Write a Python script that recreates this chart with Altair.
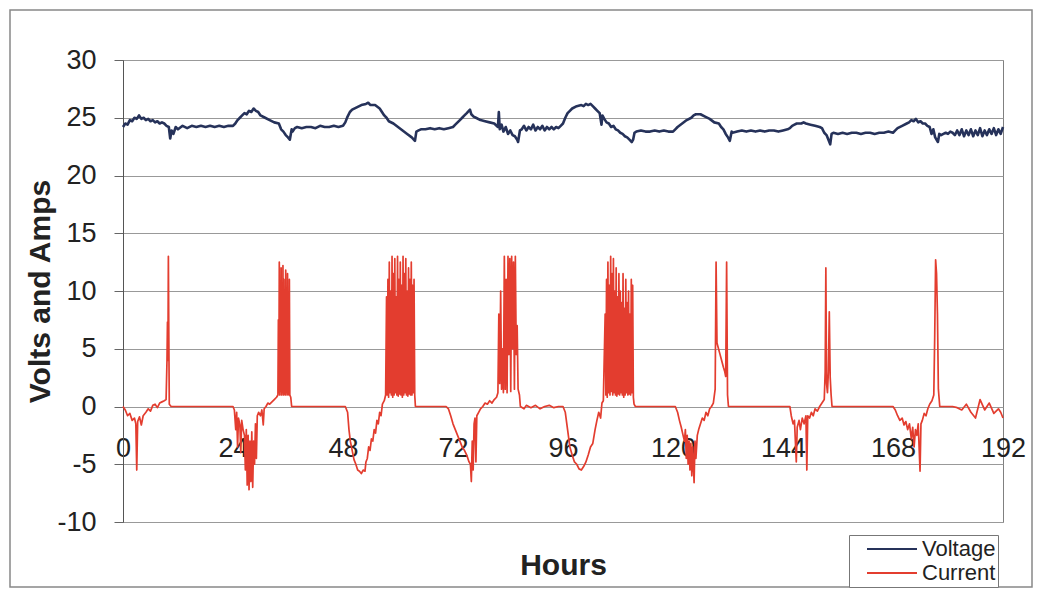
import altair as alt
import pandas as pd

# ---------------- data ----------------
series_names = ["Voltage", "Current"]
series_colors = ["#26325a", "#e33d2f"]
x_ticks = [0, 24, 48, 72, 96, 120, 144, 168, 192]
y_ticks = [-10, -5, 0, 5, 10, 15, 20, 25, 30]

volt_hours = [
    0, 0.5, 1, 1.5, 2, 2.5, 3, 3.5, 4, 4.5, 5, 5.5, 6, 6.5, 7, 7.5, 8, 8.5, 9, 9.5, 10, 10.3, 10.6, 11, 11.5,
    12, 13, 14, 15, 16, 17, 18, 19, 20, 21, 22, 23, 24,
    24.5, 25, 25.5, 26, 26.5, 27, 27.5, 28, 28.5, 29, 29.5, 30, 31, 32, 33, 34, 34.5, 35, 35.5, 36, 36.4, 36.8, 37, 37.5,
    38, 39, 40, 41, 42, 43, 44, 45, 46, 47, 48,
    48.5, 49, 49.5, 50, 51, 52, 53, 53.5, 54, 55, 56, 56.5, 57, 57.5, 58, 59, 60, 61, 62, 63, 63.7,
    64, 64.5, 65, 66, 67, 68, 69, 70, 71, 72,
    72.5, 73, 73.5, 74, 74.5, 75, 75.7, 76, 76.5, 77, 78, 79, 80, 81, 81.8, 82.0, 82.2, 82.6, 83, 83.5, 84, 84.5, 85, 85.5, 86, 86.2, 86.6,
    87, 87.5, 88, 88.5, 89, 89.5, 90, 90.5, 91, 91.5, 92, 92.5, 93, 93.5, 94, 94.5, 95, 95.5, 96,
    96.5, 97, 97.5, 98, 99, 100, 100.5, 101, 101.5, 102, 102.5, 103, 103.5, 104, 104.4, 104.6, 105, 105.5, 106, 106.5,
    107, 107.5, 108, 108.5, 109, 109.5, 110, 110.5, 111, 111.3, 111.6,
    112, 113, 114, 115, 116, 117, 118, 119, 120,
    120.5, 121, 122, 123, 124, 124.5, 125, 126, 127, 128, 129, 130, 130.5, 131, 131.5, 132, 132.4, 132.8,
    133, 134, 135, 136, 137, 138, 139, 140, 141, 142, 143, 144, 145,
    145.5, 146, 146.5, 147, 148, 148.5, 149, 150, 151, 152, 152.5, 153, 153.5, 154, 154.3, 154.6,
    155, 156, 157, 158, 159, 160, 161, 162, 163, 164, 165, 166, 167, 168,
    168.5, 169, 170, 171, 171.5, 172, 172.5, 173, 173.5, 174, 174.5, 175, 175.5, 176, 176.4, 176.8, 177.2, 177.8, 178.1, 178.5,
    179, 179.5, 180, 180.5, 181, 181.5, 182, 182.5, 183, 183.5, 184, 184.5, 185, 185.5, 186, 186.5, 187, 187.5, 188, 188.5,
    189, 189.5, 190, 190.5, 191, 191.5, 192,
]
volt_values = [
    24.2, 24.5, 24.4, 24.8, 24.7, 25.0, 24.9, 25.2, 24.9, 25.0, 24.8, 24.9, 24.7, 24.8, 24.6, 24.7, 24.5, 24.6, 24.5, 24.3, 24.2, 23.2, 23.9, 23.6, 24.2,
    24.0, 24.3, 24.1, 24.3, 24.2, 24.3, 24.2, 24.3, 24.2, 24.3, 24.2, 24.3, 24.3,
    24.5, 24.8, 25.0, 25.2, 25.4, 25.3, 25.6, 25.5, 25.8, 25.6, 25.5, 25.2, 25.0, 24.8, 24.6, 24.5, 24.0, 23.8, 23.5, 23.3, 23.1, 24.0, 23.8, 24.1,
    24.2, 24.1, 24.2, 24.2, 24.1, 24.3, 24.2, 24.2, 24.3, 24.2, 24.3,
    24.6, 25.1, 25.5, 25.7, 25.9, 26.1, 26.2, 26.3, 26.1, 26.1, 25.8, 25.5, 25.2, 25.0, 24.7, 24.5, 24.2, 23.9, 23.6, 23.3, 23.0,
    23.8, 23.9, 24.0, 24.0, 24.1, 24.0, 24.1, 24.0, 24.1, 24.2,
    24.4, 24.6, 24.8, 25.0, 25.2, 25.4, 25.7, 25.3, 25.1, 25.0, 24.8, 24.7, 24.6, 24.5, 24.2, 25.5, 24.0, 24.4, 23.8, 24.2, 23.6, 23.9, 23.5, 23.4, 23.1, 22.9, 23.9,
    24.0, 24.3, 23.9, 24.2, 24.0, 24.4, 23.9, 24.2, 24.0, 24.3, 23.9, 24.2, 24.0, 24.2, 24.0, 24.2, 24.1, 24.3, 24.5,
    25.0, 25.4, 25.6, 25.8, 26.0, 26.1, 26.0, 26.2, 26.1, 26.2, 26.0, 25.8, 25.6, 25.4, 24.4, 25.2, 24.9, 24.6, 24.5, 24.2,
    24.3, 24.0, 23.9, 23.7, 23.6, 23.4, 23.3, 23.1, 22.9, 23.1, 23.7,
    23.8, 23.9, 23.8, 23.8, 23.9, 23.8, 23.9, 23.8, 23.8,
    24.0, 24.2, 24.5, 24.8, 25.0, 25.2, 25.3, 25.3, 25.1, 24.9, 24.6, 24.5, 24.2, 24.0, 23.6, 23.3, 23.0, 23.8,
    23.7, 23.8, 23.9, 23.8, 23.9, 23.8, 23.9, 23.8, 23.9, 23.9, 23.8, 23.9, 24.0,
    24.1, 24.3, 24.4, 24.5, 24.5, 24.6, 24.5, 24.4, 24.3, 24.2, 24.1, 23.7, 23.5, 23.0, 22.7, 23.6,
    23.7, 23.6, 23.7, 23.6, 23.7, 23.7, 23.6, 23.7, 23.7, 23.6, 23.7, 23.7, 23.8, 23.7,
    23.9, 24.1, 24.3, 24.5, 24.6, 24.8, 24.7, 24.9, 24.6, 24.7, 24.5, 24.5, 24.3, 24.2, 23.6, 24.0, 23.3, 22.9, 23.6, 23.5,
    23.6, 23.7, 23.6, 23.8, 23.7, 23.5, 23.9, 23.5, 24.0, 23.4, 23.9, 23.5, 24.0, 23.4, 23.9, 23.5, 24.1, 23.4, 23.9, 23.5,
    24.0, 23.6, 24.1, 23.5, 24.0, 23.6, 24.2,
]

cur_hours = [
    0, 0.5, 1, 1.5, 2, 2.5, 2.8, 3, 3.2, 3.6, 4, 4.4, 5, 5.5, 6, 6.5, 7, 7.5, 8, 8.5, 9, 9.4, 9.6, 9.7, 9.8, 9.9, 10, 10.1, 10.5,
    24, 24.3, 24.6, 24.8, 25, 25.2, 25.5, 25.7, 25.9, 26.2, 26.5, 26.7, 26.9, 27.1, 27.3, 27.5, 27.7, 27.9, 28.1, 28.3,
    28.5, 28.7, 28.9, 29.1, 29.3, 29.6, 30, 30.3, 30.6, 30.8, 31.2, 31.6, 32, 32.5, 33, 33.5,
    33.8, 33.9, 34.0, 34.1, 34.2, 34.3, 34.4, 34.5, 34.6, 34.7, 34.8, 34.9, 35.0, 35.1, 35.2, 35.3, 35.4, 35.5, 35.6, 35.7,
    35.8, 35.9, 36.0, 36.1, 36.2, 36.3, 36.4, 36.6, 36.8,
    48.5, 49, 49.3, 49.6, 50, 50.4, 50.8, 51.2, 51.6, 52, 52.4, 52.8, 53, 53.3, 53.6, 53.9, 54.2, 54.5, 54.8, 55.1,
    55.4, 55.7, 56, 56.3, 56.6, 57, 57.3,
    57.5, 57.65, 57.8, 57.95, 58.1, 58.25, 58.4, 58.55, 58.7, 58.85, 59.0, 59.15, 59.3, 59.45, 59.6, 59.75, 59.9, 60.05, 60.2, 60.35,
    60.5, 60.65, 60.8, 60.95, 61.1, 61.25, 61.4, 61.55, 61.7, 61.85, 62.0, 62.15, 62.3, 62.45, 62.6, 62.75, 62.9, 63.05, 63.2, 63.35,
    63.5, 63.65, 63.8,
    70.5, 71, 71.5, 72, 72.5, 73, 73.5, 74, 74.5, 75, 75.5, 75.8, 76, 76.2, 76.4, 76.6, 76.8, 77, 77.2, 77.6,
    78, 78.5, 79, 79.5, 80, 80.5, 81, 81.5,
    81.8, 82.0, 82.2, 82.4, 82.6, 82.8, 83.0, 83.2, 83.4, 83.6, 83.8, 84.0, 84.2, 84.4, 84.6, 84.8, 85.0, 85.2, 85.4, 85.6,
    85.8, 86.0, 86.2, 86.5, 86.7,
    87.5, 88, 89, 90, 91, 92, 93, 94, 95, 96, 96.5, 97, 97.5, 98, 98.5, 99, 99.5, 100, 100.5, 101,
    101.5, 102, 102.5, 103, 103.4, 103.8, 104.2, 104.5, 104.8,
    105.2, 105.35, 105.5, 105.65, 105.8, 105.95, 106.1, 106.25, 106.4, 106.55, 106.7, 106.85, 107.0, 107.15, 107.3, 107.45,
    107.6, 107.75, 107.9, 108.05, 108.2, 108.35, 108.5, 108.65, 108.8, 108.95, 109.1, 109.25, 109.4, 109.55, 109.7, 109.85,
    110.0, 110.15, 110.3, 110.45, 110.6, 110.75, 110.9, 111.05, 111.2, 111.35, 111.5, 111.8,
    120.5, 121, 121.4, 121.8, 122.2, 122.5, 122.7, 122.9, 123.1, 123.3, 123.5, 123.7, 123.9, 124.1, 124.3, 124.6, 124.8, 125,
    125.3, 125.6, 126, 126.4, 126.8, 127.2, 127.6, 128, 128.4, 128.8, 129.2, 129.4, 129.6, 129.8, 130.2, 130.6, 131, 131.3,
    131.5, 131.7, 131.9, 132.1,
    145.5, 145.8, 146.2, 146.5, 146.9, 147.1, 147.5, 147.8, 148.2, 148.6, 149, 149.2, 149.4, 149.8, 150.2, 150.6, 151, 151.5,
    152, 152.5, 153, 153.2, 153.35, 153.5, 153.7, 153.9, 154.1, 154.3, 154.5, 154.7,
    168, 168.5, 169, 169.5, 170, 170.4, 170.8, 171.2, 171.6, 172, 172.3, 172.6, 172.9, 173.2, 173.5, 173.9, 174.1, 174.4,
    174.8, 175.2, 175.6, 176, 176.5, 176.9, 177.1, 177.3, 177.5, 177.7, 177.9, 178.2,
    179, 180, 181, 182, 183, 184, 185, 186, 187, 188, 189, 190, 191, 191.5, 192,
]
cur_values = [
    0, -0.3, -0.8, -0.6, -1.2, -1.0, -1.5, -5.5, -1.3, -0.9, -1.6, -0.8, -0.5, -0.2, -0.4, 0.1, 0.2, -0.1, 0.3, 0.4, 0.5, 0.6, 4.0, 7.3, 4.0, 13.0, 6.0, 0.2, 0.0,
    0, -0.3, -2.0, -0.5, -3.5, -1.0, -1.6, -4.0, -1.2, -2.0, -2.5, -5.5, -2.0, -6.8, -2.5, -7.2, -3.0, -6.5, -2.2, -7.0,
    -3.0, -5.0, -1.5, -4.5, -0.8, -0.5, -0.8, -0.3, -1.6, -0.2, 0.0, 0.3, 0.2, 0.4, 0.6, 0.8,
    1.0, 7.5, 1.2, 12.5, 1.0, 9.0, 1.3, 12.0, 1.0, 10.5, 1.2, 12.2, 1.0, 11.0, 1.1, 9.5, 1.0, 11.8, 1.2, 10.0,
    1.0, 11.5, 1.1, 9.0, 1.0, 11.0, 1.0, 0.8, 0.0,
    0, -0.5, -2.0, -3.0, -3.8, -4.6, -5.0, -5.5, -5.6, -5.8, -5.5, -5.6, -4.8, -4.5, -3.5, -3.8, -2.8, -3.0, -2.0, -2.3,
    -1.2, -1.5, -0.5, -0.8, 0.2, 0.5, 1.0,
    9.5, 1.0, 11.0, 0.8, 12.5, 1.2, 10.0, 1.0, 13.0, 0.8, 11.5, 1.0, 12.8, 1.2, 9.5, 1.0, 13.0, 0.9, 11.0, 1.1,
    12.5, 1.0, 10.5, 0.8, 13.0, 1.0, 11.5, 1.2, 12.8, 1.0, 10.0, 0.9, 12.0, 1.1, 11.0, 1.0, 12.5, 1.0, 10.5, 1.2,
    11.0, 1.0, 0.0,
    0, -0.2, -0.8, -1.5, -2.0, -2.5, -3.0, -3.5, -3.8, -4.2, -4.8, -5.0, -6.5, -3.0, -5.5, -1.5, -1.0, -4.8, -0.8, -0.5,
    -0.2, 0.0, 0.3, 0.2, 0.5, 0.3, 0.6, 0.8,
    1.2, 8.0, 2.0, 10.0, 1.5, 5.0, 1.2, 13.0, 1.5, 11.0, 1.2, 13.0, 4.5, 12.8, 1.3, 13.0, 5.0, 12.5, 1.5, 13.0,
    4.5, 7.0, 1.5, 1.0, 0.0,
    -0.2, 0.1, -0.1, 0.1, -0.2, 0.0, 0.1, -0.1, 0.0, 0.0, -0.5, -2.0, -3.5, -4.2, -4.8, -5.0, -5.4, -5.5, -5.2, -4.8,
    -4.2, -3.5, -3.2, -2.0, -1.2, -0.5, -1.0, 0.3, 0.5,
    8.0, 1.0, 11.0, 0.8, 12.5, 1.2, 10.5, 1.0, 13.0, 1.3, 11.5, 1.0, 12.8, 1.2, 10.0, 1.0,
    12.0, 0.9, 9.5, 1.1, 11.5, 1.0, 10.0, 1.2, 9.0, 1.0, 11.5, 0.8, 8.5, 1.0, 11.0, 1.2,
    9.0, 1.0, 10.0, 1.1, 8.0, 1.0, 11.0, 1.2, 10.5, 0.8, 0.2, 0.0,
    0, -0.5, -1.2, -1.8, -2.5, -3.0, -2.0, -4.5, -2.5, -5.0, -3.0, -5.5, -3.2, -6.0, -3.5, -6.6, -3.0, -4.5,
    -2.5, -2.0, -1.5, -1.0, -1.2, -0.5, -0.8, -0.2, 0.0, 0.3, 1.5, 12.5, 5.5, 5.2, 4.6, 4.0, 3.4, 3.0,
    2.6, 12.5, 1.0, 0.0,
    0, -0.8, -1.5, -1.2, -4.8, -1.8, -1.2, -2.0, -1.0, -1.5, -0.8, -5.5, -0.8, -1.0, -0.5, -0.8, -0.2, -0.4,
    0.0, 0.3, 0.6, 3.0, 12.0, 2.0, 1.2, 3.0, 8.2, 2.5, 1.0, 0.0,
    0, -0.3, -0.8, -1.2, -1.0, -1.6, -1.3, -2.0, -1.5, -2.8, -1.8, -3.5, -2.0, -2.5, -1.5, -5.6, -1.5, -1.2,
    -0.6, -0.8, -0.2, 0.2, 0.5, 1.0, 6.0, 12.7, 11.5, 8.0, 1.5, 0.0,
    0.0, 0.0, 0.0, -0.1, -0.3, 0.2, -0.5, -1.0, 0.6, -0.3, 0.3, -0.6, -0.2, -0.5, -1.0,
]

assert len(volt_hours) == len(volt_values), (len(volt_hours), len(volt_values))
assert len(cur_hours) == len(cur_values), (len(cur_hours), len(cur_values))

volt_df = pd.DataFrame({"hour": volt_hours, "value": volt_values, "series": series_names[0]})
cur_df = pd.DataFrame({"hour": cur_hours, "value": cur_values, "series": series_names[1]})

# ---------------- chart ----------------
FONT = "Liberation Sans"
PLOT_W, PLOT_H = 880, 462

x_enc = alt.X(
    "hour:Q",
    scale=alt.Scale(domain=[0, 192], nice=False, zero=False),
    axis=alt.Axis(
        values=x_ticks, offset=-115.5, ticks=False, grid=False, domain=False,
        labelFont=FONT, labelFontSize=27, labelColor="#222222", labelPadding=29,
        labelOverlap=False, labelFlush=False, labelExpr="'' + datum.value",
        title="Hours", titleFont=FONT, titleFontSize=30, titleFontWeight="bold",
        titleColor="#222222", titleY=159, titleBaseline="middle",
    ),
)
y_enc = alt.Y(
    "value:Q",
    scale=alt.Scale(domain=[-10, 30], nice=False, zero=False),
    axis=alt.Axis(
        values=y_ticks, tickSize=9, tickColor="#666666", domainColor="#555555",
        grid=True, gridColor="#999999", gridWidth=1,
        labelFont=FONT, labelFontSize=27, labelColor="#222222", labelPadding=18,
        labelExpr="'' + datum.value",
        title="Volts and Amps", titleFont=FONT, titleFontSize=30, titleFontWeight="bold",
        titleColor="#222222", titleX=-83, titleBaseline="middle",
    ),
)
color_enc = alt.Color(
    "series:N",
    scale=alt.Scale(domain=series_names, range=series_colors),
    legend=alt.Legend(
        title=None, orient="none", legendX=726, legendY=475, direction="vertical",
        symbolType="stroke", symbolSize=2500, symbolStrokeWidth=2, symbolOffset=15,
        clipHeight=24, rowPadding=0,
        labelFont=FONT, labelFontSize=22, labelColor="#222222", labelOffset=4,
        padding=2, strokeColor="#777777", fillColor="white", cornerRadius=0,
    ),
)

border = alt.Chart(alt.Data(values=[{}])).mark_rect(
    fillOpacity=0, stroke="#888888", strokeWidth=1.5
).encode(
    x=alt.value(-113), x2=alt.value(909), y=alt.value(-50), y2=alt.value(527)
)

volt_line = alt.Chart(volt_df).mark_line(strokeWidth=2.6, strokeJoin="round").encode(
    x=x_enc, y=y_enc, color=color_enc
)
cur_line = alt.Chart(cur_df).mark_line(strokeWidth=1.7, strokeJoin="round").encode(
    x=x_enc, y=y_enc, color=color_enc
)

chart = alt.layer(border, volt_line, cur_line).properties(
    width=PLOT_W,
    height=PLOT_H,
    autosize=alt.AutoSizeParams(type="none"),
    padding={"left": 115, "top": 52, "right": 34, "bottom": 66},
    background="white",
).configure_view(
    stroke="#808080", strokeWidth=1
)

chart.save("out.html", embed_options={"renderer": "svg", "actions": False})
